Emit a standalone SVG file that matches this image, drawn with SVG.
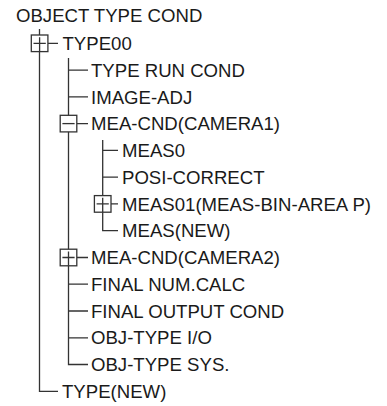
<svg xmlns="http://www.w3.org/2000/svg" width="387" height="406" viewBox="0 0 387 406">
<style>
text{font-family:"Liberation Sans",Arial,sans-serif;font-size:18.6px;fill:#1a1a1a}
.l{stroke:#333;stroke-width:1.3;fill:none}
.b{stroke:#333;stroke-width:1.3;fill:#fff}
</style>
<rect width="387" height="406" fill="#fff"/>
<g id="connectors" class="l">
<path d="M39.5 29V391.3H58M48 43.3H58"/>
<path d="M68.5 58V364.5H88M68.5 70.1H88M68.5 96.8H88M76.8 123.6H88M76.8 257.5H88M68.5 284.2H88M68.5 311H88M68.5 337.8H88"/>
<path d="M102.7 140V230.7H118M102.7 150.4H118M102.7 177.2H118M111 203.9H118"/>
</g>
<g id="root"><text x="16" y="22">OBJECT TYPE COND</text></g>
<g id="type00"><rect class="b" x="31.3" y="35" width="16.6" height="16.6"/><path class="l" d="M33.5 43.3H45.8M39.6 37.2V51.6"/><text x="62.5" y="50">TYPE00</text></g>
<g id="typeruncond"><text x="91" y="76.77">TYPE RUN COND</text></g>
<g id="imageadj"><text x="91" y="103.54">IMAGE-ADJ</text></g>
<g id="meacnd1"><rect class="b" x="60.2" y="115.3" width="16.6" height="16.6"/><path class="l" d="M62.4 123.6H74.6"/><text x="91" y="130.31">MEA-CND(CAMERA1)</text></g>
<g id="meas0"><text x="122" y="157.08">MEAS0</text></g>
<g id="posicorrect"><text x="122" y="183.85">POSI-CORRECT</text></g>
<g id="meas01"><rect class="b" x="94.4" y="195.6" width="16.6" height="16.6"/><path class="l" d="M96.6 203.9H108.8M102.7 197.8V212.2"/><text x="122" y="210.62">MEAS01(MEAS-BIN-AREA P)</text></g>
<g id="measnew"><text x="122" y="237.39">MEAS(NEW)</text></g>
<g id="meacnd2"><rect class="b" x="60.2" y="249.2" width="16.6" height="16.6"/><path class="l" d="M62.4 257.5H74.6M68.5 251.4V265.8"/><text x="91" y="264.16">MEA-CND(CAMERA2)</text></g>
<g id="finalnum"><text x="91" y="290.93">FINAL NUM.CALC</text></g>
<g id="finaloutput"><text x="91" y="317.7">FINAL OUTPUT COND</text></g>
<g id="objio"><text x="91" y="344.47">OBJ-TYPE I/O</text></g>
<g id="objsys"><text x="91" y="371.24">OBJ-TYPE SYS.</text></g>
<g id="typenew"><text x="62" y="398">TYPE(NEW)</text></g>
</svg>
